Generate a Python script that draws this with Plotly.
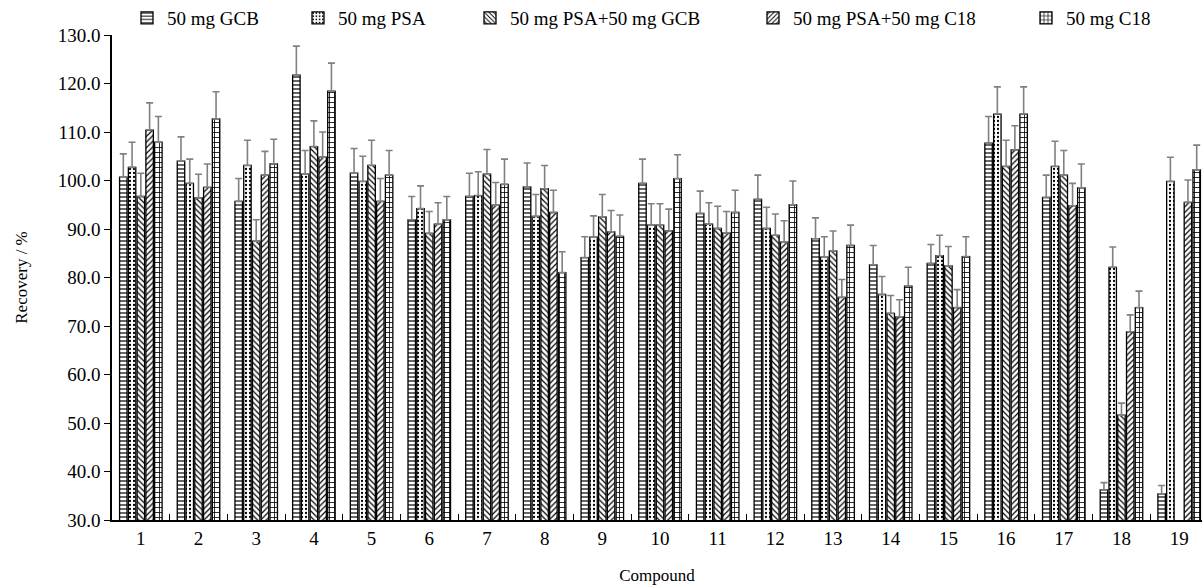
import plotly.graph_objects as go

compounds = [str(i) for i in range(1, 20)]
xpos = list(range(1, 20))

series_names = ["50 mg GCB", "50 mg PSA", "50 mg PSA+50 mg GCB", "50 mg PSA+50 mg C18", "50 mg C18"]

gcb = [100.7, 104.0, 95.7, 121.7, 101.5, 91.9, 96.7, 98.7, 84.1, 99.4, 93.2, 96.1, 88.0, 82.6, 82.9, 107.7, 96.5, 36.2, 35.4]
gcb_sd = [4.8, 5.0, 4.7, 6.0, 5.1, 4.8, 4.8, 4.9, 4.3, 5.0, 4.6, 5.0, 4.3, 4.0, 3.9, 5.5, 4.6, 1.5, 1.7]

psa = [102.7, 99.4, 103.1, 101.3, 99.8, 94.2, 96.9, 92.6, 88.3, 90.8, 91.0, 90.1, 84.2, 76.5, 84.5, 113.7, 102.9, 82.1, 99.8]
psa_sd = [5.2, 5.0, 5.2, 4.9, 5.2, 4.7, 4.9, 4.5, 4.4, 4.4, 4.4, 4.4, 4.2, 3.7, 4.2, 5.6, 5.2, 4.2, 5.0]

psa_gcb = [96.7, 96.4, 87.5, 107.0, 103.1, 89.1, 101.3, 98.3, 92.5, 90.8, 90.1, 88.7, 85.5, 72.6, 82.4, 102.9, 101.1, 51.6, None]
psa_gcb_sd = [4.8, 4.9, 4.4, 5.3, 5.2, 4.5, 5.1, 4.8, 4.6, 4.4, 4.6, 4.4, 4.1, 3.7, 4.0, 5.4, 5.1, 2.5, 0]

psa_c18 = [110.4, 98.6, 101.1, 104.8, 95.7, 91.0, 94.9, 93.4, 89.4, 89.6, 89.2, 87.3, 75.9, 71.9, 73.8, 106.3, 94.8, 68.8, 95.5]
psa_c18_sd = [5.6, 4.8, 4.9, 5.2, 4.7, 4.4, 4.7, 4.6, 4.4, 4.5, 4.4, 4.4, 3.7, 3.5, 3.7, 5.0, 4.6, 3.5, 4.6]

c18 = [107.9, 112.7, 103.4, 118.4, 101.1, 91.9, 99.2, 81.0, 88.5, 100.4, 93.4, 95.0, 86.6, 78.2, 84.3, 113.7, 98.5, 73.8, 102.2]
c18_sd = [5.3, 5.6, 5.1, 5.8, 5.1, 4.8, 5.2, 4.3, 4.4, 4.9, 4.6, 4.9, 4.2, 3.9, 4.1, 5.6, 4.9, 3.4, 5.1]

y_ticks = [30, 40, 50, 60, 70, 80, 90, 100, 110, 120, 130]

values = [gcb, psa, psa_gcb, psa_c18, c18]
sds = [gcb_sd, psa_sd, psa_gcb_sd, psa_c18_sd, c18_sd]
patterns = [
    dict(shape="-", size=4, solidity=0.3),
    dict(shape=".", size=4, solidity=0.25),
    dict(shape="\\", size=4, solidity=0.3),
    dict(shape="/", size=4, solidity=0.3),
    dict(shape="+", size=5, solidity=0.3),
]
legend_text_px = [167, 338, 510, 793, 1066]

FONT = "Liberation Serif"
W, H = 1202, 587
L, TOP, BOT = 112, 35, 520

fig = go.Figure()
for i, (name, v, sd, pat) in enumerate(zip(series_names, values, sds, patterns)):
    pat = dict(pat, fgcolor="black", bgcolor="white", fillmode="replace")
    fig.add_trace(go.Bar(
        x=xpos, y=v, name=name,
        marker=dict(color="white", pattern=pat, line=dict(color="black", width=1.3)),
        error_y=dict(type="data", symmetric=False, array=sd, arrayminus=[0] * len(sd),
                     color="#808080", thickness=1.6, width=3.5),
        legend="legend" if i == 0 else f"legend{i+1}",
    ))

legends = {}
for i, tx in enumerate(legend_text_px):
    key = "legend" if i == 0 else f"legend{i+1}"
    legends[key] = dict(
        xref="container", yref="container",
        x=(tx - 40) / W, y=1 - 18 / H, xanchor="left", yanchor="middle",
        orientation="h", font=dict(family=FONT, size=19, color="black"),
        bgcolor="rgba(0,0,0,0)", itemwidth=30, tracegroupgap=0,
    )

fig.update_layout(
    width=W, height=H,
    margin=dict(l=L, r=0, t=TOP, b=H - BOT, autoexpand=False),
    paper_bgcolor="white", plot_bgcolor="white",
    barmode="group", bargap=0.24, bargroupgap=0.15,
    font=dict(family=FONT, size=19, color="black"),
    showlegend=True,
    **legends,
)

fig.update_xaxes(
    range=[0.5, 19.5 - 6 / 57.67], automargin=False,
    tickmode="array", tickvals=xpos, ticktext=compounds, ticks="",
    showline=True, linecolor="black", linewidth=1.5, showgrid=False, zeroline=False,
    tickfont=dict(family=FONT, size=19, color="black"),
    minor=dict(tickmode="array", tickvals=[k + 0.5 for k in range(1, 19)],
               ticks="inside", ticklen=6, tickwidth=1.2, tickcolor="black", showgrid=False),
    title=dict(text="Compound", font=dict(family=FONT, size=17, color="black"), standoff=22),
)
fig.update_yaxes(
    range=[30, 130], tickmode="array", tickvals=y_ticks, tickformat=".1f", automargin=False,
    ticks="outside", ticklen=6, tickwidth=1.3, tickcolor="black",
    showline=True, linecolor="black", linewidth=1.5, showgrid=False, zeroline=False,
    tickfont=dict(family=FONT, size=19, color="black"),
    title=dict(text="Recovery / %", font=dict(family=FONT, size=17, color="black"), standoff=26),
)

fig.write_html("out.html", config={"displayModeBar": False},
               post_script="document.body.style.margin='0';document.body.style.overflow='hidden';")
